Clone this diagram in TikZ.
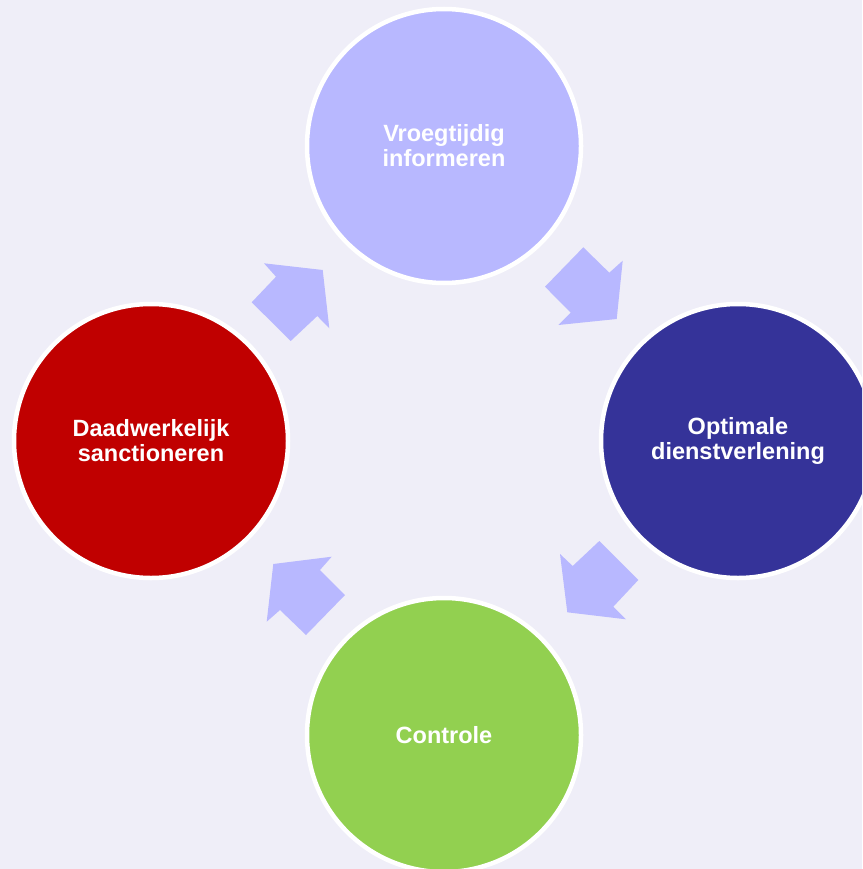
\documentclass[tikz,border=0pt]{standalone}
\usepackage{fontspec}
\setmainfont{Liberation Sans}
\definecolor{bgcol}{RGB}{239,238,248}
\definecolor{lilac}{RGB}{184,184,255}
\definecolor{navy}{RGB}{53,51,153}
\definecolor{darkred}{RGB}{192,0,0}
\definecolor{lime}{RGB}{146,208,80}
\begin{document}
\begin{tikzpicture}[x=1pt,y=-1pt,
  stage/.style={circle,draw=white,line width=4.5pt,minimum size=274pt,inner sep=0pt,
    text=white,align=center,font=\bfseries\fontsize{23.5}{25}\selectfont},
  blockarrow/.style={fill=lilac}]
\useasboundingbox (0,0) rectangle (862,869);
\clip (0,0) rectangle (862,869);
\fill[bgcol] (0,0) rectangle (862,869);
% arrows
\fill[blockarrow] (264,263.3) -- (322.7,270) -- (329.3,328.3) -- (317.3,316) -- (290.7,341) -- (251.7,302.3) -- (276,276.7) -- cycle;
\fill[blockarrow] (583.3,247.3) -- (609.3,272.7) -- (622.7,260.7) -- (616.7,319) -- (558.3,325) -- (570.7,312.7) -- (545,286.7) -- cycle;
\fill[blockarrow] (599.3,541) -- (638.3,580) -- (613.3,606.7) -- (626,619.3) -- (567.3,612.3) -- (560,554) -- (572.7,566) -- cycle;
\fill[blockarrow] (273.3,564) -- (331.7,556.7) -- (320,570) -- (345,595) -- (306,635) -- (280,610) -- (266.7,621.7) -- cycle;
% circles
\node[stage,fill=lilac] (top) at (444,146) {Vroegtijdig\\informeren};
\node[stage,fill=navy] (right) at (738,441) {Optimale\\dienstverlening};
\node[stage,fill=lime] (bottom) at (444,735) {Controle};
\node[stage,fill=darkred] (left) at (151,441) {Daadwerkelijk\\sanctioneren};
\end{tikzpicture}
\end{document}
